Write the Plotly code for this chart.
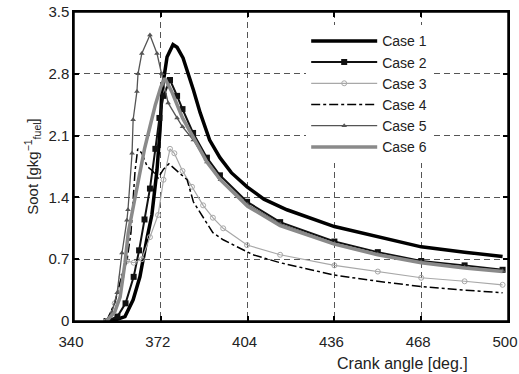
import plotly.graph_objects as go

case1_x = [352, 355, 358.8, 361.8, 364.3, 365.4, 367, 368.7, 370.6, 371.7, 372.4, 374.3, 376.5, 378, 380.2, 384, 386.5, 390, 393.8, 398, 403.8, 410, 418.5, 436, 452, 468, 484, 498]
case1_y = [0, 0.01, 0.05, 0.24, 0.5, 0.69, 0.95, 1.2, 1.71, 2.16, 2.6, 2.99, 3.13, 3.1, 2.98, 2.62, 2.36, 2.05, 1.85, 1.68, 1.52, 1.38, 1.26, 1.07, 0.95, 0.84, 0.78, 0.73]

case2_x = [352, 356, 359, 362, 364, 366, 368, 370, 371.5, 373, 375.4, 378, 380, 383.9, 389, 393.8, 403.8, 416, 436, 452, 468, 484, 498]
case2_y = [0, 0.05, 0.2, 0.5, 0.8, 1.15, 1.5, 1.95, 2.3, 2.55, 2.73, 2.55, 2.4, 2.13, 1.85, 1.65, 1.35, 1.12, 0.9, 0.78, 0.68, 0.63, 0.58]

case3_x = [352, 355, 357.5, 359.5, 362, 365, 368, 371, 373, 375.4, 377, 380, 383.5, 387.6, 391.2, 395, 403.8, 416, 436, 452, 468, 484, 498]
case3_y = [0, 0.2, 0.5, 0.68, 0.66, 0.7, 0.95, 1.2, 1.6, 1.95, 1.9, 1.7, 1.52, 1.31, 1.17, 1.05, 0.86, 0.75, 0.63, 0.56, 0.49, 0.45, 0.41]

case4_x = [352, 355, 357.5, 359.5, 361, 362.5, 363.5, 365, 367, 369, 371, 373, 375, 378, 381.7, 384, 387.6, 391.2, 395, 406, 416, 436, 452, 468, 484, 498]
case4_y = [0, 0.2, 0.5, 0.68, 1.0, 1.7, 1.95, 1.9, 1.75, 1.7, 1.62, 1.72, 1.78, 1.7, 1.6, 1.35, 1.17, 1.0, 0.92, 0.75, 0.66, 0.52, 0.45, 0.39, 0.35, 0.32]

case5_x = [352, 354, 355.9, 357.7, 359.5, 359.9, 361.4, 361.8, 363.2, 363.6, 365, 368, 370.6, 372.4, 374.7, 378, 380, 384, 389, 394, 404, 416, 436, 452, 468, 484, 498]
case5_y = [0, 0.1, 0.32, 0.77, 1.14, 1.26, 1.9, 2.28, 2.6, 2.8, 3.03, 3.24, 3.03, 2.8, 2.47, 2.3, 2.2, 2.05, 1.8, 1.6, 1.32, 1.1, 0.88, 0.76, 0.67, 0.61, 0.57]

case6_x = [352, 355, 357, 358.8, 360, 361.5, 363.6, 366, 368, 370, 372, 373.5, 376, 380, 384, 389, 394, 404, 416, 436, 452, 468, 484, 498]
case6_y = [0, 0.1, 0.27, 0.66, 1.0, 1.25, 1.55, 1.95, 2.2, 2.45, 2.65, 2.75, 2.6, 2.3, 2.08, 1.8, 1.6, 1.3, 1.08, 0.87, 0.75, 0.66, 0.6, 0.56]

x_ticks = [340, 372, 404, 436, 468, 500]
y_ticks = [0, 0.7, 1.4, 2.1, 2.8, 3.5]
y_tick_text = ["0", "0.7", "1.4", "2.1", "2.8", "3.5"]

FONT = "Liberation Sans, Arial, sans-serif"
TXT = "#222222"

fig = go.Figure()
fig.add_trace(go.Scatter(x=case1_x, y=case1_y, name="Case 1", mode="lines",
                         line=dict(color="black", width=3.5)))
fig.add_trace(go.Scatter(x=case2_x, y=case2_y, name="Case 2", mode="lines+markers",
                         line=dict(color="#111111", width=2),
                         marker=dict(symbol="square", size=6, color="#111111")))
fig.add_trace(go.Scatter(x=case3_x, y=case3_y, name="Case 3", mode="lines+markers",
                         line=dict(color="#a8a8a8", width=1.2),
                         marker=dict(symbol="circle-open", size=5, color="#a8a8a8")))
fig.add_trace(go.Scatter(x=case4_x, y=case4_y, name="Case 4", mode="lines",
                         line=dict(color="black", width=1.5, dash="dashdot")))
fig.add_trace(go.Scatter(x=case5_x, y=case5_y, name="Case 5", mode="lines+markers",
                         line=dict(color="#555555", width=1.3),
                         marker=dict(symbol="triangle-up", size=5, color="#555555")))
fig.add_trace(go.Scatter(x=case6_x, y=case6_y, name="Case 6", mode="lines",
                         line=dict(color="#8a8a8a", width=3.5)))

axis_common = dict(
    showline=True, linecolor="black", linewidth=1.5, mirror="allticks",
    ticks="inside", ticklen=5, tickcolor="black", tickwidth=1.5,
    showgrid=True, gridcolor="#555555", griddash="6px,4px", gridwidth=1.3,
    zeroline=False, automargin=False, tickfont=dict(family=FONT, size=15, color=TXT),
)

fig.update_xaxes(range=[340, 500], tickvals=x_ticks, ticklabelshift=-3,
                 ticklabelstandoff=6, **axis_common)
fig.update_yaxes(range=[0, 3.5], tickvals=y_ticks, ticktext=y_tick_text,
                 title=dict(text="Soot [gkg<sup>−1</sup><sub>fuel</sub>]",
                            font=dict(family=FONT, size=15, color=TXT), standoff=6),
                 **axis_common)

# frame around the plotting area
fig.add_shape(type="rect", xref="paper", yref="paper", x0=0, y0=0, x1=1, y1=1,
              line=dict(color="black", width=1.5), layer="above")

fig.add_annotation(text="Crank angle [deg.]", xref="paper", yref="paper",
                   x=0.758, y=-0.139, xanchor="center", yanchor="middle", showarrow=False,
                   font=dict(family=FONT, size=16, color=TXT))

fig.update_layout(
    width=519, height=374,
    margin=dict(l=74, r=11, t=12, b=53),
    plot_bgcolor="white", paper_bgcolor="white",
    legend=dict(x=0.535, y=0.957, xanchor="left", yanchor="top",
                bgcolor="white", borderwidth=0, itemwidth=66,
                font=dict(family=FONT, size=14, color=TXT),
                tracegroupgap=0),
)

fig.write_html("out.html", config={"displayModeBar": False},
               post_script="document.body.style.margin='0';document.body.style.overflow='hidden';")
